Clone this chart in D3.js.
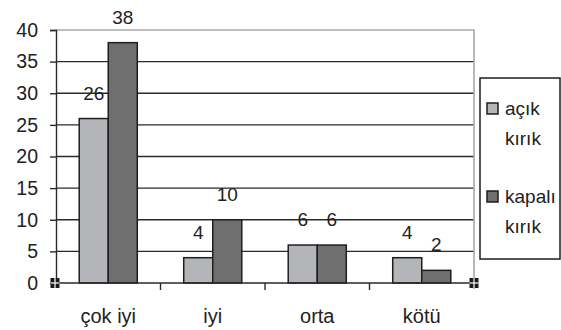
<!DOCTYPE html>
<html>
<head>
<meta charset="utf-8">
<script src="https://cdn.jsdelivr.net/npm/d3@7"></script>
<style>
  body { margin: 0; background: #fff; }
  text { font-family: Arial, "Liberation Sans", sans-serif; fill: #222; }
</style>
</head>
<body>
<div id="chart"></div>
<script>
// data
const categories = ['çok iyi', 'iyi', 'orta', 'kötü']
const series = ['açık kırık', 'kapalı kırık']
const acikKirik = [26, 4, 6, 4]
const kapaliKirik = [38, 10, 6, 2]
const yTicks = [0, 5, 10, 15, 20, 25, 30, 35, 40]

const COLORS = ['#b3b5b8', '#6f6f6f']
const W = 561, H = 330
const LEFT = 56, RIGHT = 474, TOP = 30, BOTTOM = 283

const values = [acikKirik, kapaliKirik]
const rows = categories.map((c, i) => ({ cat: c, vals: series.map((s, j) => ({ s: s, j: j, v: values[j][i] })) }))

const svg = d3.select('#chart').append('svg')
    .attr('width', W)
    .attr('height', H)

const x0 = d3.scaleBand().domain(categories).range([LEFT, RIGHT]).padding(0)
const x1 = d3.scaleBand().domain(series).range([0, x0.bandwidth()]).paddingInner(0).paddingOuter(0.8)
const y = d3.scaleLinear().domain([0, 40]).range([BOTTOM, TOP])

// grid lines
svg.append('g')
    .selectAll('line')
    .data(yTicks.filter(t => t > 0 && t < 40))
    .join('line')
        .attr('x1', LEFT).attr('x2', RIGHT)
        .attr('y1', d => y(d)).attr('y2', d => y(d))
        .attr('stroke', '#2a2a2a')
        .attr('stroke-width', 1.4)

// plot area border (top + right) in light grey
svg.append('path')
    .attr('d', `M${LEFT},${y(40)}H${RIGHT}V${BOTTOM + 6}`)
    .attr('fill', 'none')
    .attr('stroke', '#a8a8a8')
    .attr('stroke-width', 1.6)

// bars
const groups = svg.append('g')
    .selectAll('g')
    .data(rows)
    .join('g')
        .attr('transform', d => `translate(${x0(d.cat)},0)`)

groups.selectAll('rect')
    .data(d => d.vals)
    .join('rect')
        .attr('x', d => x1(d.s))
        .attr('y', d => y(d.v))
        .attr('width', x1.bandwidth())
        .attr('height', d => y(0) - y(d.v))
        .attr('fill', d => COLORS[d.j])
        .attr('stroke', '#1e1e1e')
        .attr('stroke-width', 1.5)

groups.selectAll('text')
    .data(d => d.vals)
    .join('text')
        .attr('x', d => x1(d.s) + x1.bandwidth() / 2)
        .attr('y', d => y(d.v) - 19)
        .attr('text-anchor', 'middle')
        .attr('font-size', 19)
        .text(d => d.v)

// y axis
const yAxis = svg.append('g')
    .attr('transform', `translate(${LEFT},0)`)
    .call(d3.axisLeft(y).tickValues(yTicks).tickSize(6).tickPadding(12))
yAxis.select('.domain').attr('stroke', '#2a2a2a').attr('stroke-width', 1.4)
yAxis.selectAll('.tick line').attr('stroke', '#2a2a2a').attr('stroke-width', 1.4)
yAxis.selectAll('.tick text')
    .attr('font-size', 19.5)
    .attr('font-family', 'Arial, "Liberation Sans", sans-serif')
    .attr('fill', '#222')

// x axis
svg.append('line')
    .attr('x1', LEFT).attr('x2', RIGHT)
    .attr('y1', BOTTOM).attr('y2', BOTTOM)
    .attr('stroke', '#2a2a2a')
    .attr('stroke-width', 1.5)

svg.append('g')
    .selectAll('line')
    .data(categories.slice(1))
    .join('line')
        .attr('x1', d => x0(d)).attr('x2', d => x0(d))
        .attr('y1', BOTTOM).attr('y2', BOTTOM + 7)
        .attr('stroke', '#2a2a2a')
        .attr('stroke-width', 1.4)

svg.append('g')
    .selectAll('text')
    .data(categories)
    .join('text')
        .attr('x', d => x0(d) + x0.bandwidth() / 2)
        .attr('y', 323)
        .attr('text-anchor', 'middle')
        .attr('font-size', 20)
        .text(d => d)

// little selection handles at the axis ends
function handle (cx, cy) {
    const h = svg.append('g').attr('transform', `translate(${cx},${cy})`)
    h.append('rect').attr('x', -4.5).attr('y', -5).attr('width', 9).attr('height', 10).attr('fill', '#1a1a1a')
    h.append('line').attr('x1', -4.5).attr('x2', 4.5).attr('y1', 0).attr('y2', 0).attr('stroke', '#fff').attr('stroke-width', 1.2)
    h.append('line').attr('x1', 0).attr('x2', 0).attr('y1', -5).attr('y2', 5).attr('stroke', '#fff').attr('stroke-width', 1.2)
}
handle(LEFT - 1, BOTTOM)
handle(RIGHT, BOTTOM)

// legend
const legend = svg.append('g')
legend.append('rect')
    .attr('x', 480).attr('y', 78)
    .attr('width', 80).attr('height', 181)
    .attr('fill', '#fff')
    .attr('stroke', '#1e1e1e')
    .attr('stroke-width', 1.5)

const items = legend.selectAll('g.item')
    .data(series)
    .join('g')
        .attr('class', 'item')
        .attr('transform', (d, i) => `translate(487,${103 + i * 88})`)

items.append('rect')
    .attr('width', 11).attr('height', 11)
    .attr('fill', (d, i) => COLORS[i])
    .attr('stroke', '#1e1e1e')
    .attr('stroke-width', 1.5)

items.append('text')
    .attr('font-size', 19)
    .selectAll('tspan')
    .data(d => d.split(' '))
    .join('tspan')
        .attr('x', 18)
        .attr('y', (d, i) => 12 + i * 30)
        .text(d => d)
</script>
</body>
</html>
